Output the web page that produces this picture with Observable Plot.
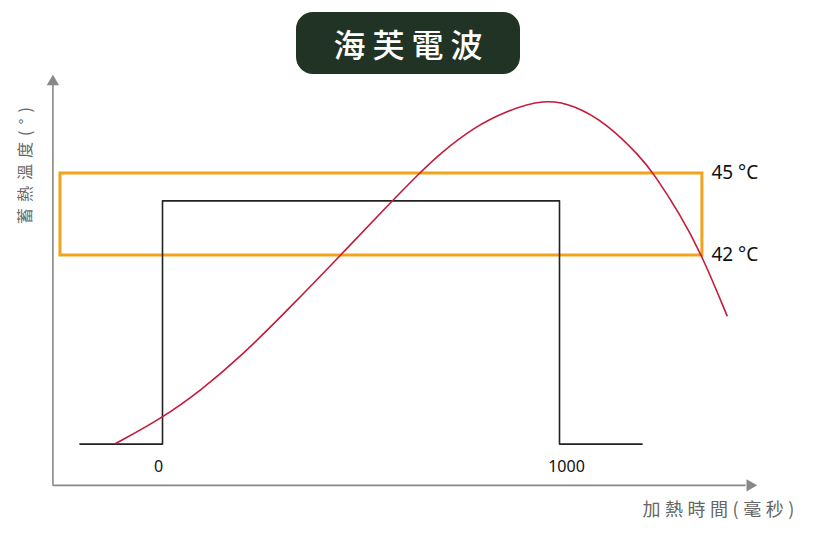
<!DOCTYPE html>
<html><head><meta charset="utf-8">
<script src="https://cdn.jsdelivr.net/npm/d3@7"></script>
<script src="https://cdn.jsdelivr.net/npm/@observablehq/plot@0.6"></script>
<style>
body{margin:0;background:#fff;}
#wrap{position:relative;width:813px;height:536px;}
#title{position:absolute;left:296px;top:12px;width:224px;height:62px;background:#213324;border-radius:17px;color:#fff;font-family:"Noto Sans CJK TC","Noto Sans CJK SC",sans-serif;font-size:32px;font-weight:500;letter-spacing:7px;display:flex;align-items:center;justify-content:center;padding-left:7px;box-sizing:border-box;}
</style></head>
<body><div id="wrap"><div id="title"></div></div>
<script>
// ---- data ----
const titleText = "海芙電波";
const yLabel = "蓄熱溫度(°)";
const xLabel = "加熱時間(毫秒)";
const xTicks = [0, 1000];
const pulseT    = [-208, 0, 0, 1000, 1000, 1208];
const pulseTemp = [35.1, 35.1, 44, 44, 35.1, 35.1];
const curveT    = [-118, 0, 96, 196, 322, 448, 579, 650, 700, 784, 868, 960, 1036, 1120, 1204, 1237, 1305, 1359, 1422];
const curveTemp = [35.12, 36.06, 37.06, 38.28, 40.11, 42.0, 44.01, 45.05, 45.74, 46.69, 47.30, 47.72, 47.52, 46.82, 45.61, 45.0, 43.48, 42.0, 39.80];
const bandTemps = [42, 45];
const bandT = [-257, 1360];
const bandLabels = ["42 °C", "45 °C"];
const axisT = [-276, 1470];
const axisTemp = [33.59, 48.22];

// ---- tables ----
document.getElementById("title").textContent = titleText;
const pulse = pulseT.map((t, i) => ({t, v: pulseTemp[i]}));
const curve = curveT.map((t, i) => ({t, v: curveTemp[i]}));
const bands = bandTemps.map((v, i) => ({v, label: bandLabels[i]}));

const gray = "#888";
const latin = "'Noto Sans','Open Sans',sans-serif";
const cjk = "'Noto Sans CJK TC','Noto Sans CJK SC',sans-serif";

const chart = Plot.plot({
  width: 813,
  height: 536,
  style: {background: "transparent"},
  x: {domain: [0, 1000], range: [162, 559], axis: null},
  y: {domain: [42, 45], range: [255, 173], axis: null},
  marks: [
    // axes
    Plot.ruleX([axisT[0]], {y1: axisTemp[0], y2: axisTemp[1], stroke: gray, strokeWidth: 1.6}),
    Plot.ruleY([axisTemp[0]], {x1: axisT[0], x2: axisT[1], stroke: gray, strokeWidth: 1.6}),
    Plot.dot([0], {x: () => axisT[0], y: () => axisTemp[1] + 0.135, symbol: "triangle", r: 4.6, fill: gray, stroke: "none"}),
    Plot.dot([0], {x: () => axisT[1] + 10, y: () => axisTemp[0], symbol: "triangle", r: 4.6, fill: gray, stroke: "none", rotate: 90}),
    // band
    Plot.rect([0], {x1: () => bandT[0], x2: () => bandT[1], y1: () => bandTemps[0], y2: () => bandTemps[1], fill: "none", stroke: "#f2a31b", strokeWidth: 3}),
    // pulse
    Plot.line(pulse, {x: "t", y: "v", stroke: "#222", strokeWidth: 1.6}),
    // curve
    Plot.line(curve, {x: "t", y: "v", stroke: "#c41a3b", strokeWidth: 1.6, curve: "basis"}),
    // band labels
    Plot.text(bands, {x: () => bandT[1], y: "v", text: "label", dx: 9, dy: -1, textAnchor: "start", fontSize: 19, fill: "#111", fontFamily: latin}),
    // tick labels
    Plot.text([xTicks[0]], {x: d => d, y: () => 34.28, text: d => String(d), dx: -4, fontSize: 16, fill: "#111", fontFamily: latin}),
    Plot.text([xTicks[1]], {x: d => d, y: () => 34.28, text: d => String(d), dx: 7, fontSize: 16, fill: "#111", fontFamily: latin}),
    // axis labels
    Plot.text([yLabel], {x: () => -345, y: () => 45.4, text: d => d, rotate: -90, fontSize: 16, fill: "#666", fontFamily: cjk}),
    Plot.text([xLabel], {x: () => 1406, y: () => 32.67, text: d => d, fontSize: 18, fill: "#666", fontFamily: cjk})
  ]
});

d3.select(chart).selectAll("text").each(function() {
  const t = this.textContent;
  if (t === yLabel) {
    this.setAttribute("letter-spacing", "6");
    this.style.opacity = "0.99";
  }
  if (t === xLabel) this.setAttribute("letter-spacing", "4.5");
});
const wrap = document.getElementById("wrap");
wrap.insertBefore(chart, wrap.firstChild);
</script>
</body></html>
